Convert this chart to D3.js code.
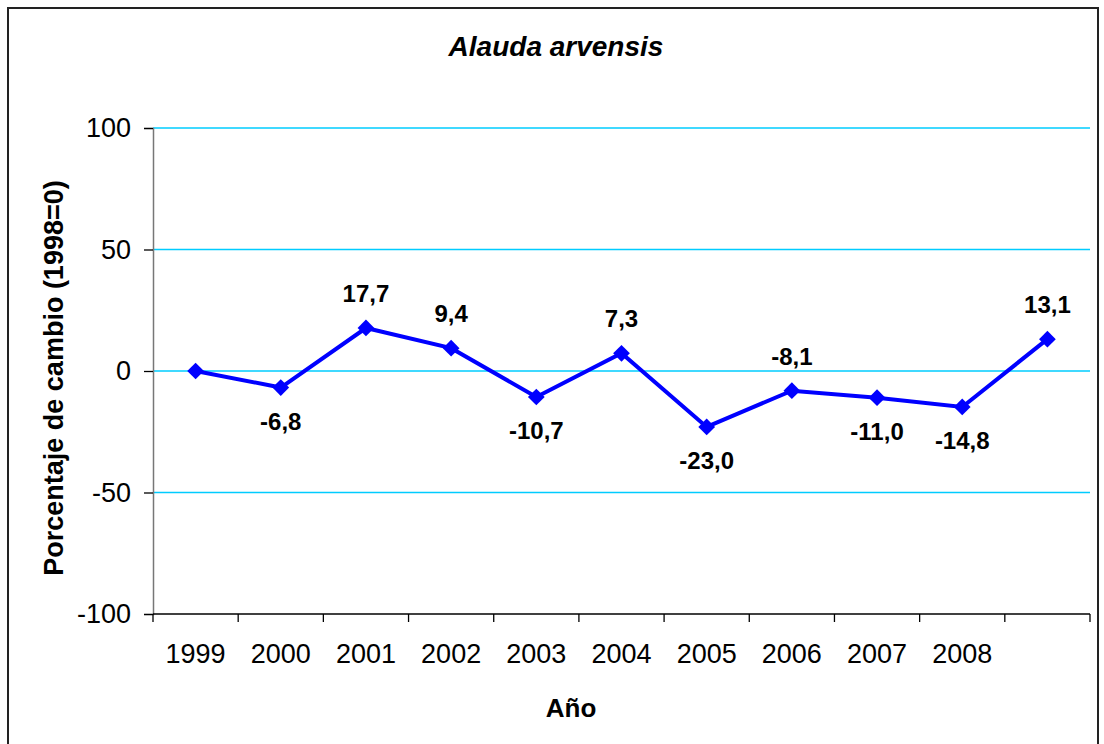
<!DOCTYPE html>
<html>
<head>
<meta charset="utf-8">
<script src="https://cdn.jsdelivr.net/npm/d3@7"></script>
<style>
  body { margin: 0; background: #fff; }
  svg { display: block; font-family: "Liberation Sans", Arial, sans-serif; }
</style>
</head>
<body>
<div id="chart"></div>
<script>
// categories (last slot has no label) and % change values
var years = ["1999", "2000", "2001", "2002", "2003", "2004", "2005", "2006", "2007", "2008", ""];
var values = [0, -6.8, 17.7, 9.4, -10.7, 7.3, -23.0, -8.1, -11.0, -14.8, 13.1];
var labelSide = [null, "below", "above", "above", "below", "above", "below", "above", "below", "below", "above"];
var yTicks = [-100, -50, 0, 50, 100];

var width = 1104, height = 744;
var plotLeft = 153, plotRight = 1090, plotTop = 128, plotBottom = 614;

var svg = d3.select("#chart").append("svg")
    .attr("width", width)
    .attr("height", height);

// outer frame
svg.append("rect")
    .attr("x", 8).attr("y", 8)
    .attr("width", 1090).attr("height", 760)
    .style("fill", "none")
    .style("stroke", "#222")
    .style("stroke-width", 2);

var x = d3.scaleBand().domain(d3.range(years.length)).range([plotLeft, plotRight]);
var y = d3.scaleLinear().domain([-100, 100]).range([plotBottom, plotTop]);
var cx = function(i) { return x(i) + x.bandwidth() / 2; };
// plain hyphen for negatives, comma decimal
var fmtLabel = function(v) { return v.toFixed(1).replace(".", ","); };

// gridlines
svg.append("g").selectAll("line")
    .data(yTicks.filter(function(d) { return d > -100; }))
    .enter().append("line")
    .attr("x1", plotLeft).attr("x2", plotRight)
    .attr("y1", function(d) { return y(d); })
    .attr("y2", function(d) { return y(d); })
    .style("stroke", "#00CCFF")
    .style("stroke-width", 1.3);

// y axis
var yAxis = svg.append("g")
    .attr("transform", "translate(" + plotLeft + ",0)")
    .call(d3.axisLeft(y).tickValues(yTicks).tickSize(9).tickPadding(13)
        .tickFormat(function(d) { return String(d); }));
yAxis.select(".domain").style("stroke", "#777").style("stroke-width", 1.5);
yAxis.selectAll(".tick line").style("stroke", "#000").style("stroke-width", 1.3);
yAxis.selectAll(".tick text")
    .style("font-size", "27px")
    .style("font-family", "Liberation Sans, Arial, sans-serif")
    .style("fill", "#000");

// x axis: ticks at band edges, labels at band centers
var xAxis = svg.append("g").attr("transform", "translate(0," + plotBottom + ")");
xAxis.append("line")
    .attr("x1", plotLeft).attr("x2", plotRight)
    .style("stroke", "#000").style("stroke-width", 1.3);
xAxis.selectAll("line.tk")
    .data(d3.range(years.length + 1))
    .enter().append("line")
    .attr("class", "tk")
    .attr("x1", function(i) { return plotLeft + i * x.step(); })
    .attr("x2", function(i) { return plotLeft + i * x.step(); })
    .attr("y1", 0).attr("y2", 8)
    .style("stroke", "#000").style("stroke-width", 1.3);
xAxis.selectAll("text")
    .data(years)
    .enter().append("text")
    .attr("x", function(d, i) { return cx(i); })
    .attr("y", 49)
    .attr("text-anchor", "middle")
    .style("font-size", "27px")
    .text(function(d) { return d; });

// line + markers
var line = d3.line()
    .x(function(d, i) { return cx(i); })
    .y(function(d) { return y(d); });

svg.append("path")
    .datum(values)
    .attr("d", line)
    .style("fill", "none")
    .style("stroke", "#0000FF")
    .style("stroke-width", 4);

svg.append("g").selectAll("path")
    .data(values)
    .enter().append("path")
    .attr("d", d3.symbol().type(d3.symbolSquare).size(140))
    .attr("transform", function(d, i) {
        return "translate(" + cx(i) + "," + y(d) + ") rotate(45)";
    })
    .style("fill", "#0000FF");

// data labels
var labels = values.map(function(v, i) { return { v: v, i: i, side: labelSide[i] }; })
    .filter(function(d) { return d.side !== null; });

svg.append("g").selectAll("text")
    .data(labels)
    .enter().append("text")
    .attr("x", function(d) { return cx(d.i); })
    .attr("y", function(d) { return d.side === "above" ? y(d.v) - 26 : y(d.v) + 42; })
    .attr("text-anchor", "middle")
    .style("font-size", "24px")
    .style("font-weight", "bold")
    .text(function(d) { return fmtLabel(d.v); });

// title
svg.append("text")
    .attr("x", 556).attr("y", 56)
    .attr("text-anchor", "middle")
    .style("font-size", "28px")
    .style("font-weight", "bold")
    .style("font-style", "italic")
    .text("Alauda arvensis");

// axis titles
svg.append("text")
    .attr("x", 571).attr("y", 717)
    .attr("text-anchor", "middle")
    .style("font-size", "26px")
    .style("font-weight", "bold")
    .text("Año");

svg.append("text")
    .attr("transform", "translate(63,378) rotate(-90)")
    .attr("text-anchor", "middle")
    .style("font-size", "27px")
    .style("font-weight", "bold")
    .text("Porcentaje de cambio (1998=0)");
</script>
</body>
</html>
